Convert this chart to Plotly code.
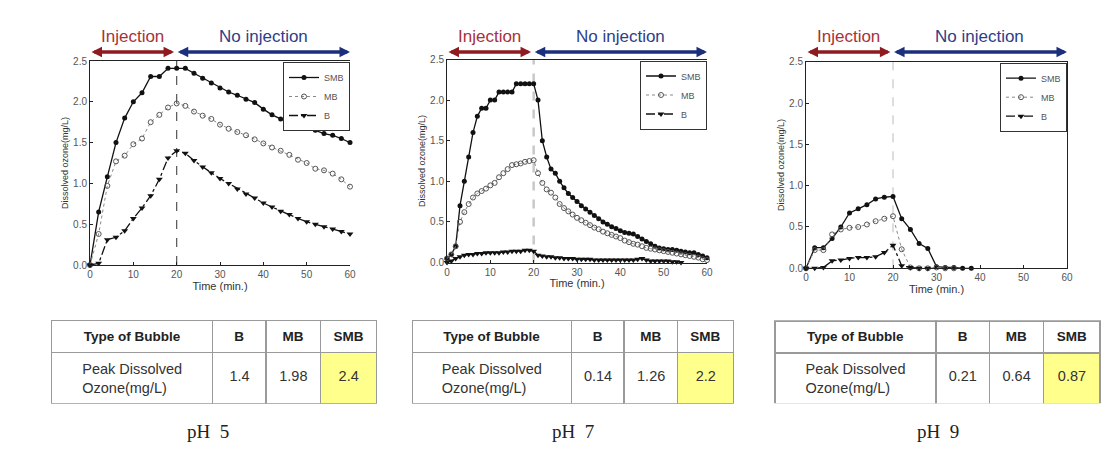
import plotly.graph_objects as go

W, H = 1120, 459

# ---------------- data ----------------
time_ph5 = list(range(0, 61, 2))
smb_ph5 = [0, 0.65, 1.08, 1.50, 1.80, 2.00, 2.11, 2.31, 2.31, 2.41, 2.41, 2.41, 2.35, 2.29, 2.23, 2.17,
           2.12, 2.08, 2.03, 1.99, 1.91, 1.84, 1.79, 1.75, 1.71, 1.68, 1.65, 1.61, 1.59, 1.55, 1.50]
mb_ph5 = [0, 0.38, 0.97, 1.27, 1.34, 1.48, 1.55, 1.75, 1.84, 1.93, 1.98, 1.95, 1.88, 1.83, 1.79, 1.72,
          1.67, 1.63, 1.59, 1.54, 1.49, 1.44, 1.40, 1.35, 1.29, 1.25, 1.18, 1.16, 1.12, 1.05, 0.96]
b_ph5 = [0, 0.02, 0.31, 0.34, 0.42, 0.57, 0.70, 0.85, 1.05, 1.31, 1.40, 1.37, 1.28, 1.20, 1.13, 1.06,
         1.00, 0.93, 0.87, 0.82, 0.76, 0.71, 0.66, 0.62, 0.57, 0.53, 0.50, 0.47, 0.44, 0.41, 0.38]

time_ph7 = list(range(0, 61))
smb_ph7 = [0.05, 0.10, 0.20, 0.70, 1.00, 1.30, 1.60, 1.80, 1.90, 1.90,
           2.00, 2.00, 2.10, 2.10, 2.10, 2.10, 2.20, 2.20, 2.20, 2.20,
           2.20, 2.00, 1.50, 1.30, 1.15, 1.10, 1.00, 0.92, 0.85, 0.80,
           0.75, 0.70, 0.66, 0.62, 0.58, 0.54, 0.50, 0.47, 0.44, 0.42,
           0.39, 0.37, 0.36, 0.35, 0.32, 0.29, 0.26, 0.23, 0.20, 0.18,
           0.17, 0.16, 0.16, 0.15, 0.14, 0.13, 0.12, 0.12, 0.10, 0.08, 0.06]
mb_ph7 = [0.05, 0.10, 0.20, 0.50, 0.62, 0.72, 0.80, 0.85, 0.88, 0.91,
          0.95, 0.98, 1.05, 1.10, 1.15, 1.20, 1.21, 1.22, 1.24, 1.25,
          1.26, 1.10, 0.98, 0.90, 0.86, 0.80, 0.72, 0.67, 0.63, 0.59,
          0.55, 0.52, 0.49, 0.46, 0.43, 0.41, 0.38, 0.36, 0.34, 0.32,
          0.30, 0.27, 0.25, 0.23, 0.22, 0.20, 0.18, 0.17, 0.16, 0.15,
          0.14, 0.13, 0.12, 0.11, 0.10, 0.09, 0.08, 0.07, 0.06, 0.04, 0.03]
time_b_ph7 = list(range(0, 55))
b_ph7 = [0.00, 0.02, 0.05, 0.07, 0.09, 0.10, 0.10, 0.11, 0.11, 0.12,
         0.12, 0.12, 0.12, 0.13, 0.13, 0.14, 0.14, 0.14, 0.15, 0.15,
         0.14, 0.09, 0.08, 0.07, 0.07, 0.06, 0.06, 0.05, 0.05, 0.05,
         0.04, 0.04, 0.04, 0.04, 0.03, 0.03, 0.03, 0.03, 0.03, 0.03,
         0.03, 0.03, 0.03, 0.03, 0.04, 0.05, 0.03, 0.02, 0.02, 0.02,
         0.02, 0.02, 0.01, 0.01, 0.00]

time_smb_ph9 = list(range(0, 39, 2))
smb_ph9 = [0, 0.25, 0.25, 0.36, 0.50, 0.67, 0.72, 0.77, 0.84, 0.86, 0.87, 0.60, 0.47, 0.30, 0.24,
           0.02, 0.01, 0.01, 0.00, 0.00]
time_mb_ph9 = list(range(0, 35, 2))
mb_ph9 = [0, 0.22, 0.22, 0.41, 0.47, 0.49, 0.50, 0.53, 0.57, 0.60, 0.63, 0.23, 0.01, 0.00, 0.00,
          0.01, 0.00, 0.00]
time_b_ph9 = list(range(0, 29, 2))
b_ph9 = [0, 0.00, 0.01, 0.09, 0.10, 0.12, 0.13, 0.13, 0.14, 0.19, 0.28, 0.03, 0.01, 0.00, 0.00]

series_names = ["SMB", "MB", "B"]
x_ticks = [0, 10, 20, 30, 40, 50, 60]
y_ticks = [0.0, 0.5, 1.0, 1.5, 2.0, 2.5]

table_header = ["Type of Bubble", "B", "MB", "SMB"]
row_label = "Peak Dissolved<br>Ozone(mg/L)"
peak_ph5 = ["1.4", "1.98", "2.4"]
peak_ph7 = ["0.14", "1.26", "2.2"]
peak_ph9 = ["0.21", "0.64", "0.87"]
captions = ["pH\u00a0\u00a05", "pH\u00a0\u00a07", "pH\u00a0\u00a09"]
phase_labels = ["Injection", "No injection"]

# ---------------- layout helpers ----------------
def px_x(v):
    return v / W

def px_y(v):
    return 1 - v / H

FONT = "Liberation Sans, Arial, sans-serif"
COLW = [160, 53, 54, 56]

panels = [
    dict(x0=90, x1=350, y0=61, y1=265,
         data=[(time_ph5, smb_ph5), (time_ph5, mb_ph5), (time_ph5, b_ph5)],
         vline=dict(color="#555", width=1.2, dash="dash"), mirror_y=False,
         table=dict(x0=51.7, x1=375, y0=320.7, y1=400.7, vals=peak_ph5), cap_x=208),
    dict(x0=447, x1=707, y0=59.5, y1=262.5,
         data=[(time_ph7, smb_ph7), (time_ph7, mb_ph7), (time_b_ph7, b_ph7)],
         vline=dict(color="#c8c8c8", width=2.5, dash="dash"), mirror_y=False,
         table=dict(x0=412.3, x1=732, y0=320.7, y1=400.7, vals=peak_ph7), cap_x=573),
    dict(x0=806, x1=1067, y0=61.7, y1=268.3,
         data=[(time_smb_ph9, smb_ph9), (time_mb_ph9, mb_ph9), (time_b_ph9, b_ph9)],
         vline=dict(color="#bbbbbb", width=1, dash="dash"), mirror_y=True,
         table=dict(x0=775, x1=1098.3, y0=321.2, y1=400.7, vals=peak_ph9), cap_x=938),
]

styles = [
    dict(line=dict(color="#111", width=1.3, dash="solid"),
         marker=dict(symbol="circle", size=5, color="#111")),
    dict(line=dict(color="#888", width=1, dash="dot"),
         marker=dict(symbol="circle-open", size=5, color="#555", line=dict(width=1))),
    dict(line=dict(color="#111", width=1.3, dash="dashdot"),
         marker=dict(symbol="triangle-down", size=6, color="#111")),
]

fig = go.Figure()
layout = dict(width=W, height=H, autosize=False,
              margin=dict(l=0, r=0, t=0, b=0, autoexpand=False),
              paper_bgcolor="white", plot_bgcolor="white",
              font=dict(family=FONT, color="#333"))
annotations = []
shapes = []

for i, p in enumerate(panels):
    n = "" if i == 0 else str(i + 1)
    xa, ya = "x" + n, "y" + n
    lg = "legend" + n
    for j, (tx, vy) in enumerate(p["data"]):
        fig.add_trace(go.Scatter(x=tx, y=vy, name=series_names[j], mode="lines+markers",
                                 xaxis=xa, yaxis=ya, legend=lg, cliponaxis=False,
                                 line=styles[j]["line"], marker=styles[j]["marker"]))
    layout["xaxis" + n] = dict(domain=[px_x(p["x0"]), px_x(p["x1"])], anchor=ya, range=[0, 60],
                               tickvals=x_ticks, showgrid=False, zeroline=False,
                               showline=True, linecolor="#222", linewidth=1,
                               mirror=True, ticks="inside", ticklen=3, tickcolor="#222",
                               tickfont=dict(size=10, color="#555"),
                               title=dict(text="Time (min.)", font=dict(size=11, color="#333"), standoff=0))
    layout["yaxis" + n] = dict(domain=[px_y(p["y1"]), px_y(p["y0"])], anchor=xa, range=[0, 2.5],
                               tickvals=y_ticks, tickformat=".1f", showgrid=False, zeroline=False,
                               showline=True, linecolor="#222", linewidth=1,
                               mirror=p["mirror_y"], ticks="inside", ticklen=3, tickcolor="#222",
                               tickfont=dict(size=10, color="#555"),
                               title=dict(text="Dissolved ozone(mg/L)", font=dict(size=9, color="#333"), standoff=2))
    layout[lg] = dict(x=px_x(p["x1"]), y=px_y(p["y0"] + 1), xanchor="right", yanchor="top",
                      bgcolor="white", bordercolor="#333", borderwidth=1,
                      font=dict(size=9, color="#555"), itemwidth=30, tracegroupgap=0)
    # dividing line at 20 min
    shapes.append(dict(type="line", xref=xa, yref=ya, x0=20, x1=20, y0=0, y1=2.5,
                       line=p["vline"], layer="below"))
    # phase arrows
    arrow_y = px_y(52)
    text_y = px_y(36.5)
    for (xs, xe, col, tcol, label) in [(0, 19.4, "#8E1B20", "#A8323A", phase_labels[0]),
                                        (19.9, 60, "#1B2F7C", "#2E3E88", phase_labels[1])]:
        annotations.append(dict(xref=xa, yref="paper", x=xe, y=arrow_y, axref=xa, ayref="pixel",
                                ax=xs, ay=0, text="", showarrow=True, arrowside="end+start",
                                arrowhead=2, arrowsize=0.6, arrowwidth=3.5, arrowcolor=col,
                                standoff=0, startstandoff=0))
        annotations.append(dict(xref=xa, yref="paper", x=(xs + xe) / 2, y=text_y, text=label,
                                xanchor="center", yanchor="middle",
                                showarrow=False, font=dict(size=17, color=tcol, family=FONT)))
    # table: grid with header + row label + highlighted SMB cell
    t = p["table"]
    tw = t["x1"] - t["x0"]
    fig.add_trace(go.Table(
        domain=dict(x=[px_x(t["x0"]), px_x(t["x1"] + 2)], y=[px_y(t["y1"] + 3), px_y(t["y0"])]),
        columnwidth=COLW,
        header=dict(values=["<b>%s</b>" % h for h in table_header], height=32, align="center",
                    fill_color="white", line=dict(color="#9a9a9a", width=1.5),
                    font=dict(family=FONT, size=13.5, color="#222")),
        cells=dict(values=[[row_label], [""], [""], [""]], height=t["y1"] - t["y0"] - 32, align="center",
                   fill_color=["white", "white", "white", "#FFFF8C"],
                   line=dict(color="#9a9a9a", width=1.5),
                   font=dict(family=FONT, size=14.5, color="#333")),
    ))
    # peak values, vertically centred in the value row
    vx0 = t["x0"] + (tw + 2) * COLW[0] / sum(COLW)
    fig.add_trace(go.Table(
        domain=dict(x=[px_x(vx0), px_x(t["x1"] + 2)], y=[px_y(t["y1"]), px_y(t["y0"] + 41)]),
        columnwidth=COLW[1:],
        header=dict(values=t["vals"], height=t["y1"] - t["y0"] - 41, align="center",
                    fill_color="rgba(0,0,0,0)", line=dict(width=0, color="rgba(0,0,0,0)"),
                    font=dict(family=FONT, size=14.5, color="#333")),
    ))
    annotations.append(dict(xref="paper", yref="paper", x=px_x(p["cap_x"]), y=px_y(431.7),
                            text=captions[i], showarrow=False, xanchor="center", yanchor="middle",
                            font=dict(family="Liberation Serif, Times New Roman, serif", size=19, color="#222")))

layout["annotations"] = annotations
layout["shapes"] = shapes
fig.update_layout(**layout)
fig.write_html("out.html", config={"displayModeBar": False},
               post_script="document.body.style.margin='0px';")
